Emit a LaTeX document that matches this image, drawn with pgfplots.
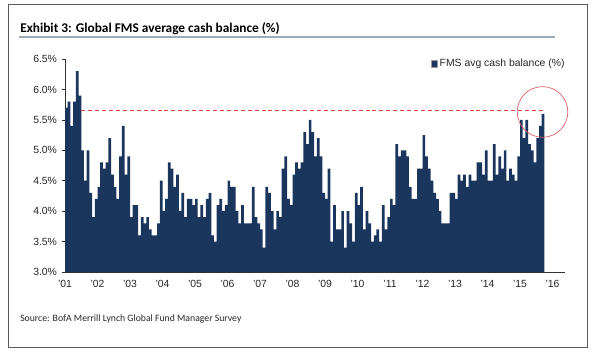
\documentclass[border=0pt]{standalone}
\usepackage{pgfplots}
\pgfplotsset{compat=1.18}
\usepackage{pgfplotstable}
\usepackage{fontspec}
\setmainfont{Liberation Sans}
\newfontfamily\calibri{Carlito}
\definecolor{barcol}{RGB}{27,54,93}
\definecolor{dashred}{RGB}{226,72,66}
\definecolor{circred}{RGB}{222,92,96}
\definecolor{framegray}{RGB}{90,90,90}
\definecolor{rulegray}{RGB}{160,170,182}

\pgfplotstableread{
m v
0 5.7
1 5.8
2 5.4
3 5.8
4 6.3
5 5.9
6 5.0
7 4.5
8 5.0
9 4.3
10 3.9
11 4.2
12 4.4
13 4.8
14 4.7
15 4.8
16 5.2
17 4.6
18 4.4
19 4.2
20 4.9
21 5.4
22 4.6
23 4.9
24 3.9
25 4.1
26 4.1
27 3.6
28 3.9
29 3.8
30 3.9
31 3.7
32 3.6
33 3.6
34 3.8
35 4.5
36 4.0
37 4.2
38 4.8
39 4.7
40 4.4
41 4.6
42 4.0
43 4.3
44 3.9
45 4.2
46 4.2
47 4.1
48 4.2
49 3.9
50 4.1
51 3.9
52 4.2
53 4.3
54 3.6
55 3.5
56 4.1
57 4.2
58 4.0
59 4.1
60 4.5
61 4.4
62 4.4
63 4.0
64 3.8
65 4.1
66 3.8
67 3.8
68 3.8
69 4.4
70 3.9
71 3.8
72 3.7
73 3.4
74 4.4
75 4.3
76 4.0
77 3.7
78 4.0
79 3.9
80 4.7
81 4.9
82 4.2
83 4.1
84 4.6
85 4.8
86 4.7
87 4.8
88 5.3
89 5.1
90 5.5
91 5.3
92 4.9
93 5.2
94 4.9
95 4.3
96 4.2
97 4.7
98 3.5
99 4.1
100 3.7
101 3.7
102 4.0
103 3.4
104 4.0
105 3.8
106 3.5
107 4.3
108 4.1
109 4.4
110 3.7
111 4.0
112 3.8
113 3.5
114 3.6
115 3.7
116 3.5
117 4.1
118 3.7
119 3.9
120 4.2
121 4.1
122 5.1
123 4.9
124 5.0
125 5.0
126 4.9
127 4.4
128 4.2
129 4.2
130 4.7
131 4.7
132 5.25
133 4.9
134 4.7
135 4.5
136 4.3
137 4.2
138 4.0
139 3.8
140 3.8
141 3.8
142 4.3
143 4.3
144 4.2
145 4.6
146 4.5
147 4.6
148 4.4
149 4.6
150 4.5
151 4.5
152 4.8
153 4.8
154 4.6
155 5.0
156 4.5
157 4.5
158 5.1
159 4.6
160 4.9
161 4.7
162 5.0
163 4.5
164 4.7
165 4.6
166 4.5
167 4.9
168 5.5
169 5.2
170 5.5
171 5.1
172 5.0
173 4.8
174 5.2
175 5.4
176 5.6
}\fmsdata

\begin{document}
\begin{tikzpicture}
\useasboundingbox (0pt,0pt) rectangle (447pt,264pt);
\draw[framegray, line width=0.7pt] (6.3pt,3.2pt) rectangle (440.3pt,260.6pt);
\node[anchor=base west, inner sep=0pt, font=\calibri\bfseries\fontsize{10}{12}\selectfont] at (15pt,239.3pt) {Exhibit 3: Global FMS average cash balance (\%)};
\draw[rulegray, line width=1.5pt] (14.3pt,235.9pt) -- (416.3pt,235.9pt);
\node[anchor=base west, inner sep=0pt, font=\calibri\fontsize{7.3}{9}\selectfont, text=black!85] at (15pt,22.5pt) {Source: BofA Merrill Lynch Global Fund Manager Survey};
\begin{axis}[
  at={(48.75pt,60pt)}, anchor=south west, scale only axis,
  width=375pt, height=159.75pt,
  xmin=0, xmax=184.6, ymin=3, ymax=6.5,
  clip=false,
  axis lines=left, axis line style={-, black!80, line width=0.6pt},
  xtick={0,12,24,36,48,60,72,84,96,108,120,132,144,156,168,180},
  xticklabels={{'01},{'02},{'03},{'04},{'05},{'06},{'07},{'08},{'09},{'10},{'11},{'12},{'13},{'14},{'15},{'16}},
  ytick={3,3.5,4,4.5,5,5.5,6,6.5},
  yticklabels={3.0\%,3.5\%,4.0\%,4.5\%,5.0\%,5.5\%,6.0\%,6.5\%},
  x tick style={draw=none},
  y tick style={black!80, line width=0.5pt},
  tick align=outside, major tick length=2.5pt,
  tick label style={font=\fontsize{7.8}{9}\selectfont, text=black!85},
  legend style={draw=none, fill=none, at={(rel axis cs:1.005,0.977)}, anchor=east,
    font=\fontsize{7.8}{9}\selectfont, text=black!85, inner sep=0pt},
  legend cell align=left,
  legend image code/.code={\path[fill=barcol, draw=black!40, line width=0.3pt, fill opacity=1] (0pt,-2.4pt) rectangle (4.6pt,2.4pt);},
]
\addplot[ybar, bar width=1, fill=barcol, draw=none]
  table[x expr=\thisrow{m}+0.5, y=v] {\fmsdata};
\addlegendentry{FMS avg cash balance (\%)}
\addplot[dashred, line width=0.9pt, dash pattern=on 3pt off 2.2pt, forget plot]
  coordinates {(6,5.65) (177,5.65)};
\draw[circred, line width=0.5pt] (axis cs:176.3,5.63) circle[radius=19pt];
\end{axis}
\end{tikzpicture}
\end{document}
